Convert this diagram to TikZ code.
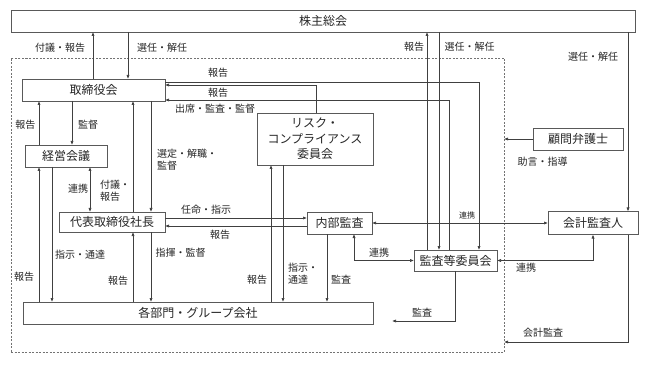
\documentclass[tikz,border=0pt]{standalone}
\usepackage{fontspec}
\setmainfont{Noto Sans CJK JP}
\usetikzlibrary{arrows.meta}
\begin{document}
\begin{tikzpicture}[x=1pt,y=-1pt,
  ln/.style={draw=black!75, line width=0.7pt},
  arr/.style={ln,-{Latex[length=4pt,width=3.2pt]}},
  darr/.style={ln,{Latex[length=4pt,width=3.2pt]}-{Latex[length=4pt,width=3.2pt]}},
  box/.style={draw=black!65, line width=0.7pt, inner sep=0pt, outer sep=0pt, fill=white, font=\fontsize{12}{15.5}\selectfont, text=black!85, align=center},
  lbl/.style={inner sep=0pt, font=\fontsize{10}{12}\selectfont, text=black!85},
  sml/.style={inner sep=0pt, font=\fontsize{8}{9}\selectfont, text=black!85},
  frame/.style={draw=black!55, line width=0.7pt, dash pattern=on 2pt off 1.5pt, inner sep=0pt, outer sep=0pt}]

\useasboundingbox[fill=white] (0,0) rectangle (645,366);

% frame of the company
\node[frame, minimum width=493, minimum height=294] (grp) at (257.5,205) {};

% boxes
\node[box, minimum width=624, minimum height=22] (sh) at (323,21) {株主総会};
\node[box, minimum width=143, minimum height=22] (tb) at (93.5,90) {取締役会};
\node[box, minimum width=82, minimum height=22] (kk) at (66,156) {経営会議};
\node[box, minimum width=106, minimum height=20] (ceo) at (112,222) {代表取締役社長};
\node[box, minimum width=116, minimum height=52] (risk) at (315,139) {リスク・\\コンプライアンス\\委員会};
\node[box, minimum width=65, minimum height=22] (ia) at (339.5,223) {内部監査};
\node[box, minimum width=83, minimum height=21] (ac) at (455.5,260.5) {監査等委員会};
\node[box, minimum width=90, minimum height=22] (law) at (578,139) {顧問弁護士};
\node[box, minimum width=90, minimum height=23] (ea) at (593,223) {会計監査人};
\node[box, minimum width=350, minimum height=22] (dept) at (198,313) {各部門・グループ会社};

% helper coordinates
\foreach \xx in {39,52,72,90,93,128,133,151,271,283,316,327,354,427,439,449,455,479,593,628}
  \coordinate (x\xx) at (\xx,0);
\foreach \yy in {82,85,100,218,226,342}
  \coordinate (y\yy) at (0,\yy);
\coordinate (m392) at (392,321);

% connectors
\draw[arr] (tb.north -| x93) -- (sh.south -| x93);
\draw[arr] (sh.south -| x128) -- (tb.north -| x128);
\draw[arr] (ac.north -| x427) -- (sh.south -| x427);
\draw[arr] (sh.south -| x439) -- (ac.north -| x439);
\draw[arr] (sh.south -| x628) -- (ea.north -| x628);
\draw[arr] (tb.east |- y82) -| (ac.north -| x479);
\draw[arr] (risk.north -| x316) |- (tb.east |- y85);
\draw[arr] (ac.north -| x449) |- (tb.east |- y100);
\draw[arr] (tb.south -| x72) -- (kk.north -| x72);
\draw[arr] (kk.north -| x39) -- (tb.south -| x39);
\draw[darr] (kk.south -| x90) -- (ceo.north -| x90);
\draw[arr] (ceo.north -| x133) -- (tb.south -| x133);
\draw[arr] (tb.south -| x151) -- (ceo.north -| x151);
\draw[arr] (dept.north -| x39) -- (kk.south -| x39);
\draw[arr] (kk.south -| x52) -- (dept.north -| x52);
\draw[arr] (dept.north -| x133) -- (ceo.south -| x133);
\draw[arr] (ceo.south -| x151) -- (dept.north -| x151);
\draw[arr] (ceo.east |- y218) -- (ia.west |- y218);
\draw[arr] (ia.west |- y226) -- (ceo.east |- y226);
\draw[arr] (dept.north -| x271) -- (risk.south -| x271);
\draw[arr] (risk.south -| x283) -- (dept.north -| x283);
\draw[arr] (ia.south -| x327) -- (dept.north -| x327);
\draw[darr] (ia.east) -- (ea.west |- ia.east);
\draw[darr] (ia.south -| x354) |- (ac.west);
\draw[darr] (ac.east) -| (ea.south -| x593);
\draw[arr] (ac.south -| x455) |- (m392);
\draw[arr] (law.west) -- (grp.east |- law.west);
\draw[arr] (ea.south -| x628) |- (grp.east |- y342);

% labels
\node[lbl] at (60,48) {付議・報告};
\node[lbl] at (162,48) {選任・解任};
\node[lbl] at (414,47) {報告};
\node[lbl] at (469.5,47) {選任・解任};
\node[lbl] at (593,57) {選任・解任};
\node[lbl] at (218,73) {報告};
\node[lbl] at (218,93) {報告};
\node[lbl] at (215,109) {出席・監査・監督};
\node[lbl] at (88,125) {監督};
\node[lbl] at (25.5,125) {報告};
\node[lbl] at (78,189) {連携};
\node[lbl, align=left, anchor=west] at (100,191) {付議・\\報告};
\node[lbl, align=left, anchor=west] at (157,160) {選定・解職・\\監督};
\node[lbl] at (24,277) {報告};
\node[lbl] at (80,255) {指示・通達};
\node[lbl] at (118,281) {報告};
\node[lbl] at (180.5,253) {指揮・監督};
\node[lbl] at (206,210) {任命・指示};
\node[lbl] at (220,235) {報告};
\node[lbl] at (257,280) {報告};
\node[lbl, align=left, anchor=west] at (288,273.5) {指示・\\通達};
\node[lbl] at (341,280) {監査};
\node[sml] at (467,215) {連携};
\node[lbl] at (379,253) {連携};
\node[lbl] at (526,268) {連携};
\node[lbl] at (422,313) {監査};
\node[lbl] at (542.5,162) {助言・指導};
\node[lbl] at (543,333) {会計監査};
\end{tikzpicture}
\end{document}
